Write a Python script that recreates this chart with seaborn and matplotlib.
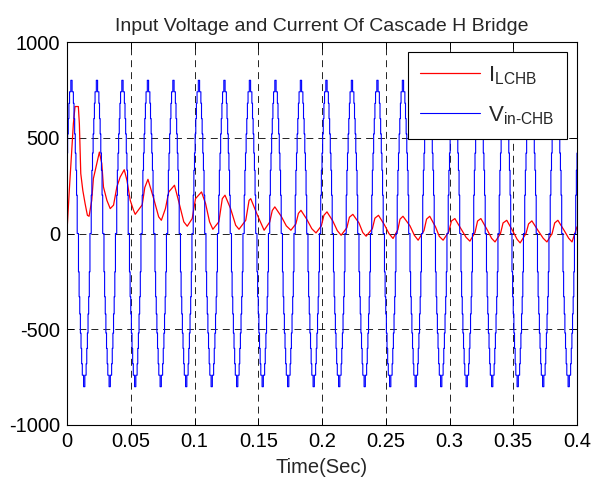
import numpy as np
import pandas as pd
import matplotlib
matplotlib.use("Agg")
import matplotlib.pyplot as plt
import seaborn as sns

# load current I_LCHB (time in s, value)
i_time = [0.0002, 0.0018, 0.0050, 0.0063, 0.0089, 0.0097, 0.0108, 0.0124, 0.0142,
          0.0160, 0.0173, 0.0194, 0.0207, 0.0234, 0.0254, 0.0273, 0.0286, 0.0313,
          0.0339, 0.0365, 0.0391, 0.0417, 0.0449, 0.0470, 0.0496, 0.0522, 0.0535,
          0.0590, 0.0610, 0.0635, 0.0680, 0.0719, 0.0740, 0.0772, 0.0798, 0.0843,
          0.0877, 0.0916, 0.0943, 0.0982, 0.1008, 0.1055, 0.1087, 0.1118, 0.1144,
          0.1191, 0.1218, 0.1239, 0.1283, 0.1323, 0.1349, 0.1402, 0.1428, 0.1441,
          0.1494, 0.1546, 0.1590, 0.1610, 0.1630, 0.1680, 0.1720, 0.1756, 0.1795,
          0.1815, 0.1835, 0.1880, 0.1920, 0.1953, 0.1995, 0.2015, 0.2039, 0.2085,
          0.2120, 0.2150, 0.2195, 0.2215, 0.2242, 0.2290, 0.2320, 0.2346, 0.2395,
          0.2415, 0.2443, 0.2490, 0.2525, 0.2557, 0.2595, 0.2612, 0.2635, 0.2690,
          0.2725, 0.2754, 0.2800, 0.2820, 0.2845, 0.2890, 0.2920, 0.2950, 0.2995,
          0.3015, 0.3042, 0.3090, 0.3130, 0.3160, 0.3200, 0.3220, 0.3246, 0.3295,
          0.3330, 0.3357, 0.3400, 0.3420, 0.3449, 0.3495, 0.3530, 0.3554, 0.3600,
          0.3620, 0.3646, 0.3695, 0.3735, 0.3764, 0.3805, 0.3825, 0.3850, 0.3900,
          0.3935, 0.3961, 0.4000]
i_value = [35, 225, 573, 663, 663, 573, 313, 225, 156,
           95, 90, 173, 287, 365, 425, 365, 243, 173,
           130, 148, 243, 295, 333, 278, 173, 121, 100,
           150, 240, 283, 182, 87, 69, 130, 217, 252,
           165, 61, 38, 78, 182, 217, 156, 61, 22,
           61, 182, 200, 130, 43, 22, 69, 173, 182,
           95, 17, 60, 120, 139, 90, 40, 17, 50,
           105, 121, 75, 25, 3, 40, 95, 113, 65,
           15, -9, 30, 85, 100, 55, 5, -14, 25,
           80, 95, 45, 0, -26, 20, 75, 90, 40,
           -10, -35, 15, 75, 90, 35, -15, -35, 10,
           65, 78, 25, -20, -40, 5, 65, 78, 20,
           -25, -44, 0, 55, 69, 15, -30, -49, 0,
           50, 66, 15, -25, -44, 0, 55, 69, 15,
           -25, -44, 35]

# one 20 ms period of the stepped inverter voltage, sampled every 0.5 ms
v_cycle = [420, 520, 600, 680, 740, 740, 800, 800, 740, 740,
           680, 600, 520, 420, 330, 200, 0, 0, -200, -330,
           -420, -520, -600, -680, -740, -740, -800, -800, -740, -740,
           -680, -600, -520, -420, -330, -200, 0, 0, 200, 330]
v_step = 0.0005
n_cycles = 20

x_ticks = [0, 0.05, 0.1, 0.15, 0.2, 0.25, 0.3, 0.35, 0.4]
x_labels = ["0", "0.05", "0.1", "0.15", "0.2", "0.25", "0.3", "0.35", "0.4"]
y_ticks = [-1000, -500, 0, 500, 1000]

v_value = list(np.tile(v_cycle, n_cycles)) + [v_cycle[0]]
v_time = np.arange(len(v_value)) * v_step

df_i = pd.DataFrame({"t": i_time, "v": i_value})
df_v = pd.DataFrame({"t": v_time, "v": v_value})

sns.set_style("ticks")
plt.rcParams["font.family"] = ["Liberation Sans", "DejaVu Sans"]
plt.rcParams["mathtext.fontset"] = "custom"
plt.rcParams["mathtext.rm"] = "Liberation Sans"
plt.rcParams["mathtext.it"] = "Liberation Sans"
plt.rcParams["axes.unicode_minus"] = False
plt.rcParams["lines.scale_dashes"] = False

fig = plt.figure(figsize=(6.03, 4.79), dpi=100)
ax = fig.add_axes([67 / 603, 1 - 425 / 479, 510 / 603, 383 / 479])

sns.lineplot(data=df_i, x="t", y="v", ax=ax, color="#ff0000", linewidth=0.9,
             estimator=None, sort=False, label=r"$\mathregular{I_{LCHB}}$")
sns.lineplot(data=df_v, x="t", y="v", ax=ax, color="#0000ff", linewidth=0.8,
             estimator=None, sort=False, drawstyle="steps-post",
             label=r"$\mathregular{V_{in‐CHB}}$")

ax.set_xlim(0, 0.4)
ax.set_ylim(-1000, 1000)
ax.set_xticks(x_ticks)
ax.set_xticklabels(x_labels)
ax.set_yticks(y_ticks)
ax.grid(True, color="black", linestyle=(0, (5, 3.6)), linewidth=0.6)
ax.set_axisbelow(True)
ax.tick_params(direction="in", length=5, width=0.7, top=True, right=True,
               labelsize=14.5, pad=5, colors="black")
for s in ax.spines.values():
    s.set_linewidth(0.8)
    s.set_color("black")

ax.set_xlabel("Time(Sec)", fontsize=14.5, labelpad=5)
ax.set_ylabel("")
ax.set_title("Input Voltage and Current Of Cascade H Bridge", fontsize=14, pad=8)

leg = ax.legend(loc="upper right", fontsize=16, frameon=True, fancybox=False,
                edgecolor="black", framealpha=1, handlelength=2.7,
                handletextpad=0.36, labelspacing=0.78, borderpad=0.55,
                borderaxespad=0.45)
leg.get_frame().set_linewidth(0.8)

fig.savefig("out.png", dpi=100)
